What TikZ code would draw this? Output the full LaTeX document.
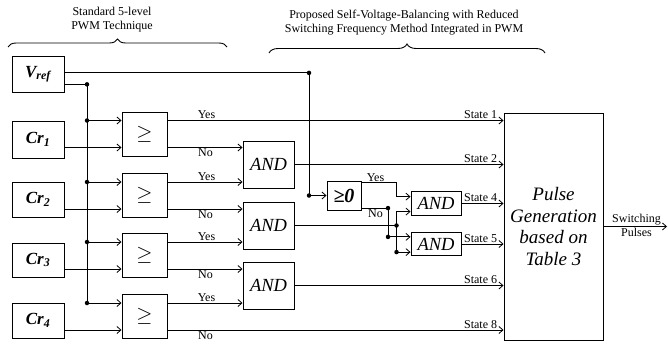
\documentclass[tikz,border=0pt]{standalone}
\usepackage{fontspec}
\setmainfont{Liberation Serif}
\usetikzlibrary{arrows.meta,decorations.pathreplacing,calc}
\begin{document}
\begin{tikzpicture}[x=1pt,y=-1pt,
  blk/.style={draw,line width=1pt,inner sep=0pt,rectangle},
  wire/.style={line width=0.9pt},
  arr/.style={wire,-{Straight Barb[length=4pt,width=7pt,line width=0.8pt]}},
  jd/.style={circle,fill,inner sep=0pt,minimum size=4.5pt},
  lbl/.style={font=\fontsize{12}{14}\selectfont,inner sep=1.2pt},
  src/.style={blk,minimum width=52pt,minimum height=36pt,font=\fontsize{17}{17}\selectfont\bfseries\itshape},
  cmp/.style={blk,minimum width=45pt,minimum height=44pt,font=\fontsize{22}{22}\selectfont},
  andg/.style={blk,minimum width=51pt,minimum height=47pt,font=\fontsize{18.5}{18.5}\selectfont\itshape},
  ands/.style={blk,minimum width=50pt,minimum height=23.5pt,font=\fontsize{18.5}{18.5}\selectfont\itshape},
  brc/.style={wire,decorate},
]
\useasboundingbox (0,0) rectangle (668,345);

% sources
\node[src] (vref) at (38,74) {V\textsubscript{ref}};
\node[src,minimum height=37pt] (cr1) at (38,139.5) {Cr\textsubscript{1}};
\node[src,minimum height=35pt] (cr2) at (38,199.5) {Cr\textsubscript{2}};
\node[src,minimum height=34pt] (cr3) at (38,260) {Cr\textsubscript{3}};
\node[src,minimum height=35pt] (cr4) at (38,320.5) {Cr\textsubscript{4}};

% comparators
\node[cmp] (g1) at (144.5,134) {$\geq$};
\node[cmp] (g2) at (144.5,195.5) {$\geq$};
\node[cmp] (g3) at (144.5,255.5) {$\geq$};
\node[cmp] (g4) at (144.5,316.5) {$\geq$};

% AND gates
\node[andg] (a1) at (268.5,164.5) {AND};
\node[andg] (a2) at (268.5,225.5) {AND};
\node[andg] (a3) at (268.5,285.5) {AND};

\node[blk,minimum width=34pt,minimum height=29pt,font=\fontsize{20}{20}\selectfont\bfseries\itshape] (gz) at (344,195.5) {≥0};
\node[ands] (a4) at (436,203.5) {AND};
\node[ands] (a5) at (436,244) {AND};

\node[blk,minimum width=99pt,minimum height=227pt,align=center,font=\fontsize{19}{21.5}\selectfont\itshape] (pg) at (553.5,226.5) {Pulse\\Generation\\based on\\Table 3};

% ports
\foreach \g in {g1,g2,g3,g4}{
  \coordinate (\g i1) at ($(\g.north west)!0.2!(\g.south west)$);
  \coordinate (\g i2) at ($(\g.north west)!0.8!(\g.south west)$);
  \coordinate (\g o1) at ($(\g.north east)!0.2!(\g.south east)$);
  \coordinate (\g o2) at ($(\g.north east)!0.8!(\g.south east)$);
}
\coordinate (v1) at ($(vref.north east)!0.47!(vref.south east)$);
\coordinate (v2) at ($(vref.north east)!0.78!(vref.south east)$);
\coordinate (busx) at (87,0);
\coordinate (vx) at (309,0);
\coordinate (xk) at (396.5,0);
\coordinate (xm) at (388,0);
\coordinate (sp) at (667,0);
\coordinate (gzy) at ($(gz.north east)!0.08!(gz.south east)$);
\coordinate (gzn) at ($(gz.north east)!0.92!(gz.south east)$);
\coordinate (a4i1) at ($(a4.north west)!0.22!(a4.south west)$);
\coordinate (a4i2) at ($(a4.north west)!0.83!(a4.south west)$);
\coordinate (a5i1) at ($(a5.north west)!0.21!(a5.south west)$);
\coordinate (a5i2) at ($(a5.north west)!0.83!(a5.south west)$);

% bus from Vref
\node[jd] (d0) at (v2 -| busx) {};
\node[jd] (d1) at (g1i1 -| busx) {};
\node[jd] (d2) at (g2i1 -| busx) {};
\node[jd] (d3) at (g3i1 -| busx) {};
\node[jd] (d4) at (g4i1 -| busx) {};
\draw[wire] (v2) -- (d0.center) -- (d4.center);
\draw[arr] (d1.center) -- (g1i1);
\draw[arr] (d2.center) -- (g2i1);
\draw[arr] (d3.center) -- (g3i1);
\draw[arr] (d4.center) -- (g4i1);

% carriers
\draw[arr] (cr1.east |- g1i2) -- (g1i2);
\draw[arr] (cr2.east |- g2i2) -- (g2i2);
\draw[arr] (cr3.east |- g3i2) -- (g3i2);
\draw[arr] (cr4.east |- g4i2) -- (g4i2);

% comparator outputs
\draw[arr] (g1o1) -- (g1o1 -| pg.west);
\draw[arr] (g1o2) -- (g1o2 -| a1.west);
\draw[arr] (g2o1) -- (g2o1 -| a1.west);
\draw[arr] (g2o2) -- (g2o2 -| a2.west);
\draw[arr] (g3o1) -- (g3o1 -| a2.west);
\draw[arr] (g3o2) -- (g3o2 -| a3.west);
\draw[arr] (g4o1) -- (g4o1 -| a3.west);
\draw[arr] (g4o2) -- (g4o2 -| pg.west);

\foreach \g/\n in {g1/1,g2/2,g3/3,g4/4}{
  \node[lbl,anchor=south] (ly\n) at ($(\g o1)+(39,0)$) {Yes};
  \node[lbl,anchor=north] (ln\n) at ($(\g o2)+(38,0)$) {No};
}

% AND outputs
\draw[arr] (a1.east) -- (a1.east -| pg.west);
\draw[arr] (a3.east) -- (a3.east -| pg.west);

% Vref to >=0
\node[jd] (d5) at (v1 -| vx) {};
\node[jd] (d6) at (gz.west -| vx) {};
\draw[wire] (v1) -- (d5.center) -- (d6.center);
\draw[arr] (d6.center) -- (gz.west);

% >=0 outputs
\draw[arr] (gzy) -- (gzy -| xk) -- (a4i1 -| xk) -- (a4i1);
\node[jd] (d7) at (gzn -| xm) {};
\node[jd] (d8) at (a5i1 -| xm) {};
\draw[wire] (gzn) -- (d7.center) -- (d8.center);
\draw[arr] (d8.center) -- (a5i1);
\node[lbl,anchor=south] (lgy) at ($(gzy)+(14,0)$) {Yes};
\node[lbl,anchor=north] (lgn) at ($(gzn)+(14,0)$) {No};

% AND2 output
\node[jd] (d9) at (a2.east -| xk) {};
\node[jd] (d10) at (a5i2 -| xk) {};
\draw[wire] (a2.east) -- (d9.center);
\draw[arr] (d10.center) -- (a4i2 -| xk) -- (a4i2);
\draw[arr] (d10.center) -- (a5i2);

\draw[arr] (a4.east) -- (a4.east -| pg.west);
\draw[arr] (a5.east) -- (a5.east -| pg.west);

% state labels
\node[lbl,anchor=south east] (s1) at ($(g1o1 -| pg.west)+(-5,0)$) {State 1};
\node[lbl,anchor=south east] (s2) at ($(a1.east -| pg.west)+(-5,0)$) {State 2};
\node[lbl,anchor=south east] (s4) at ($(a4.east -| pg.west)+(-5,0)$) {State 4};
\node[lbl,anchor=south east] (s5) at ($(a5.east -| pg.west)+(-5,0)$) {State 5};
\node[lbl,anchor=south east] (s6) at ($(a3.east -| pg.west)+(-5,0)$) {State 6};
\node[lbl,anchor=south east] (s8) at ($(g4o2 -| pg.west)+(-5,0)$) {State 8};

% output
\draw[arr] (pg.east) -- (pg.east -| sp);
\node[lbl,anchor=south] (sw1) at ($(pg.east)+(33,0)$) {Switching};
\node[lbl,anchor=north] (sw2) at ($(pg.east)+(33,0)$) {Pulses};

% braces
\coordinate (b1l) at (8,47);
\coordinate (b1r) at (227,47);
\coordinate (b2l) at (269,53);
\coordinate (b2r) at (545,53);
\draw[brc,decoration={brace,amplitude=8pt}] (b1l) -- (b1r);
\draw[brc,decoration={brace,amplitude=9pt}] (b2l) -- (b2r);
\node[lbl,align=center] (t1) at (112,20) {Standard 5-level\\PWM Technique};
\node[lbl,align=center] (t2) at (404,23) {Proposed Self-Voltage-Balancing with Reduced\\Switching Frequency Method Integrated in PWM};
\end{tikzpicture}
\end{document}
